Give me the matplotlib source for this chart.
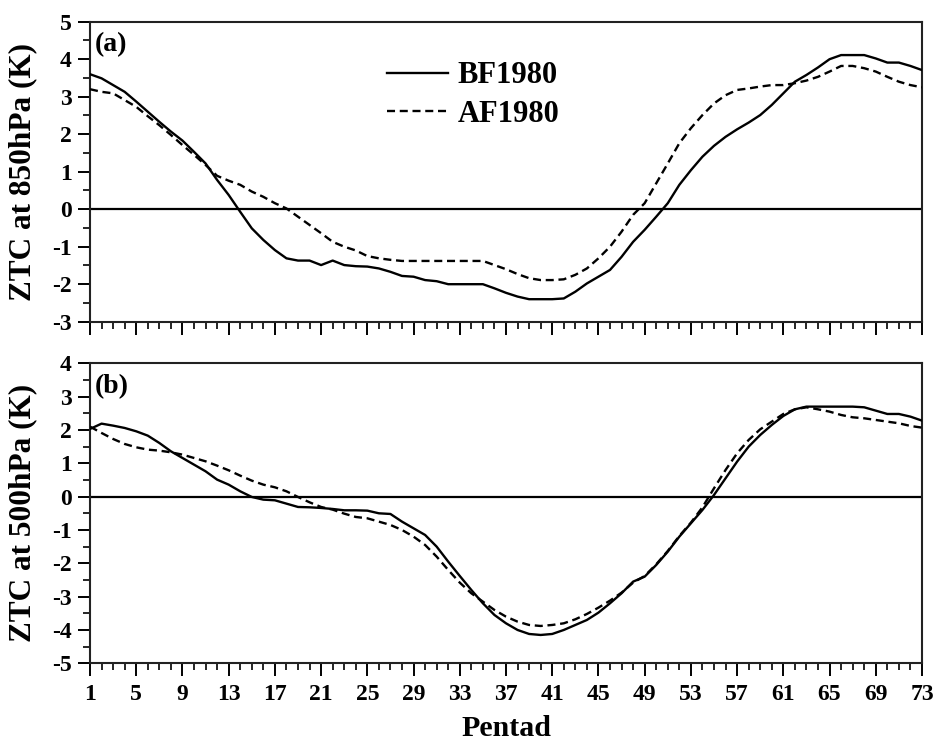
import numpy as np
import matplotlib
matplotlib.use("Agg")
import matplotlib.pyplot as plt
from matplotlib.ticker import MultipleLocator

plt.rcParams["font.family"] = ["Liberation Serif", "DejaVu Serif"]
plt.rcParams["font.weight"] = "bold"
plt.rcParams["axes.labelweight"] = "bold"
plt.rcParams["axes.unicode_minus"] = False

pentad = np.arange(1, 74)
xtick_labels = list(range(1, 74, 4))

# ZTC at 850 hPa (K)
bf850 = [3.60, 3.49, 3.31, 3.13, 2.87, 2.60, 2.33, 2.07, 1.83, 1.53,
         1.22, 0.78, 0.38, -0.07, -0.51, -0.82, -1.09, -1.31, -1.37, -1.37,
         -1.49, -1.37, -1.49, -1.52, -1.53, -1.58, -1.67, -1.78, -1.80, -1.89,
         -1.92, -2.00, -2.00, -2.00, -2.00, -2.11, -2.23, -2.33, -2.40, -2.40,
         -2.40, -2.38, -2.20, -1.98, -1.80, -1.62, -1.27, -0.87, -0.55, -0.20,
         0.16, 0.65, 1.04, 1.40, 1.69, 1.93, 2.13, 2.31, 2.51, 2.78,
         3.09, 3.40, 3.58, 3.78, 4.00, 4.11, 4.11, 4.11, 4.02, 3.91,
         3.91, 3.82, 3.71]
af850 = [3.20, 3.13, 3.09, 2.91, 2.73, 2.48, 2.24, 1.98, 1.71, 1.45,
         1.18, 0.89, 0.76, 0.65, 0.47, 0.33, 0.16, 0.02, -0.20, -0.42,
         -0.64, -0.87, -1.00, -1.10, -1.25, -1.31, -1.35, -1.38, -1.38, -1.38,
         -1.38, -1.38, -1.38, -1.38, -1.38, -1.49, -1.60, -1.73, -1.84, -1.89,
         -1.89, -1.87, -1.75, -1.58, -1.31, -1.00, -0.60, -0.15, 0.16, 0.69,
         1.22, 1.76, 2.16, 2.51, 2.82, 3.04, 3.18, 3.22, 3.27, 3.31,
         3.31, 3.36, 3.43, 3.53, 3.67, 3.82, 3.82, 3.76, 3.67, 3.53,
         3.40, 3.31, 3.25]

# ZTC at 500 hPa (K)
bf500 = [2.03, 2.19, 2.13, 2.06, 1.96, 1.83, 1.61, 1.36, 1.16, 0.96,
         0.76, 0.51, 0.36, 0.16, -0.01, -0.09, -0.11, -0.21, -0.31, -0.32,
         -0.34, -0.37, -0.41, -0.41, -0.42, -0.50, -0.52, -0.75, -0.95, -1.15,
         -1.50, -1.95, -2.38, -2.80, -3.20, -3.55, -3.80, -4.00, -4.12, -4.15,
         -4.12, -4.00, -3.85, -3.70, -3.48, -3.20, -2.90, -2.55, -2.40, -2.05,
         -1.65, -1.20, -0.80, -0.40, 0.05, 0.55, 1.05, 1.50, 1.85, 2.15,
         2.42, 2.62, 2.70, 2.70, 2.70, 2.70, 2.70, 2.68, 2.58, 2.48,
         2.48, 2.40, 2.28]
af500 = [2.10, 1.91, 1.73, 1.58, 1.48, 1.41, 1.38, 1.33, 1.26, 1.16,
         1.06, 0.93, 0.79, 0.63, 0.48, 0.36, 0.28, 0.16, -0.01, -0.17,
         -0.31, -0.39, -0.51, -0.61, -0.65, -0.75, -0.85, -1.00, -1.20, -1.45,
         -1.80, -2.20, -2.58, -2.90, -3.15, -3.40, -3.60, -3.75, -3.85, -3.88,
         -3.85, -3.80, -3.68, -3.52, -3.33, -3.12, -2.88, -2.58, -2.38, -2.03,
         -1.63, -1.18, -0.78, -0.32, 0.25, 0.80, 1.30, 1.70, 2.02, 2.25,
         2.48, 2.62, 2.68, 2.62, 2.55, 2.45, 2.38, 2.35, 2.30, 2.25,
         2.20, 2.12, 2.07]

W, H = 938, 743
fig = plt.figure(figsize=(W / 100, H / 100), dpi=100)

def frac(x0, y0, x1, y1):
    return [x0 / W, 1 - y1 / H, (x1 - x0) / W, (y1 - y0) / H]

ax_a = fig.add_axes(frac(90, 21.7, 922, 321.7))
ax_b = fig.add_axes(frac(90, 363.3, 922, 663.3))

panels = [
    (ax_a, bf850, af850, (-3, 5), "ZTC at 850hPa (K)", "(a)"),
    (ax_b, bf500, af500, (-5, 4), "ZTC at 500hPa (K)", "(b)"),
]

for ax, bf, af, ylim, ylabel, tag in panels:
    ax.axhline(0, color="black", lw=1.6, zorder=1)
    ax.plot(pentad, bf, color="black", lw=1.7, label="BF1980", zorder=3)
    ax.plot(pentad, af, color="black", lw=1.7, dashes=(3.4, 2.0),
            label="AF1980", zorder=3)
    ax.set_xlim(1, 73)
    ax.set_ylim(*ylim)
    ax.set_xticks(xtick_labels)
    ax.xaxis.set_minor_locator(MultipleLocator(1))
    ax.yaxis.set_major_locator(MultipleLocator(1))
    ax.yaxis.set_minor_locator(MultipleLocator(0.5))
    ax.tick_params(axis="both", which="major", direction="out", length=9,
                   width=1.4, labelsize=17, colors="black")
    ax.tick_params(axis="x", which="major", pad=6)
    ax.tick_params(axis="y", which="major", pad=4)
    ax.tick_params(axis="both", which="minor", direction="out", length=5,
                   width=1.2)
    ax.tick_params(top=False, right=False)
    for s in ax.spines.values():
        s.set_linewidth(1.5)
        s.set_color("#222222")
    ax.set_ylabel(ylabel, fontsize=22.5)
    ax.yaxis.set_label_coords(-0.064, 0.5)
    ax.text(0.006, 0.965, tag, transform=ax.transAxes, fontsize=20,
            fontweight="bold", va="top", ha="left")

ax_a.tick_params(axis="x", labelbottom=False)
ax_b.set_xlabel("Pentad", fontsize=21.5, labelpad=7)

ax_a.legend(loc="upper left", bbox_to_anchor=(0.357, 0.868), frameon=False,
            fontsize=22, handlelength=2.0, handletextpad=0.3,
            labelspacing=0.32, borderpad=0, borderaxespad=0)

fig.savefig("out.png", dpi=100)
